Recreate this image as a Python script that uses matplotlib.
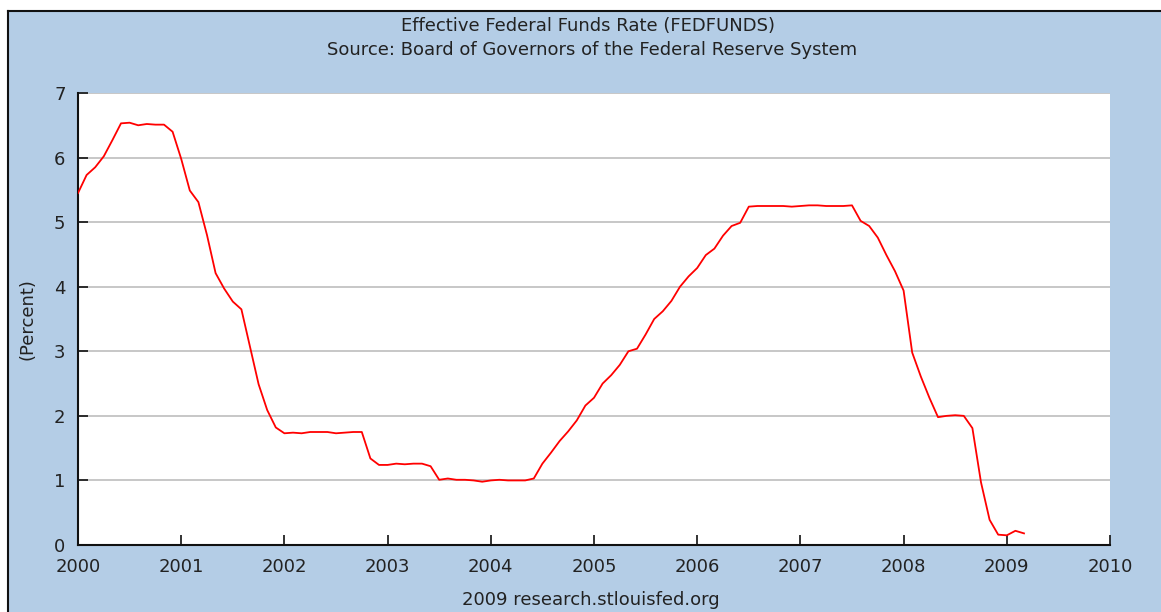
import matplotlib
matplotlib.use("Agg")
import matplotlib.pyplot as plt
from matplotlib.patches import Rectangle
from matplotlib.lines import Line2D

# Monthly effective federal funds rate, Jan 2000 - Mar 2009
years = [2000, 2001, 2002, 2003, 2004, 2005, 2006, 2007, 2008, 2009]
rates_2000 = [5.45, 5.73, 5.85, 6.02, 6.27, 6.53, 6.54, 6.50, 6.52, 6.51, 6.51, 6.40]
rates_2001 = [5.98, 5.49, 5.31, 4.80, 4.21, 3.97, 3.77, 3.65, 3.07, 2.49, 2.09, 1.82]
rates_2002 = [1.73, 1.74, 1.73, 1.75, 1.75, 1.75, 1.73, 1.74, 1.75, 1.75, 1.34, 1.24]
rates_2003 = [1.24, 1.26, 1.25, 1.26, 1.26, 1.22, 1.01, 1.03, 1.01, 1.01, 1.00, 0.98]
rates_2004 = [1.00, 1.01, 1.00, 1.00, 1.00, 1.03, 1.26, 1.43, 1.61, 1.76, 1.93, 2.16]
rates_2005 = [2.28, 2.50, 2.63, 2.79, 3.00, 3.04, 3.26, 3.50, 3.62, 3.78, 4.00, 4.16]
rates_2006 = [4.29, 4.49, 4.59, 4.79, 4.94, 4.99, 5.24, 5.25, 5.25, 5.25, 5.25, 5.24]
rates_2007 = [5.25, 5.26, 5.26, 5.25, 5.25, 5.25, 5.26, 5.02, 4.94, 4.76, 4.49, 4.24]
rates_2008 = [3.94, 2.98, 2.61, 2.28, 1.98, 2.00, 2.01, 2.00, 1.81, 0.97, 0.39, 0.16]
rates_2009 = [0.15, 0.22, 0.18]

yearly = [rates_2000, rates_2001, rates_2002, rates_2003, rates_2004,
          rates_2005, rates_2006, rates_2007, rates_2008, rates_2009]
dates = []
values = []
for y, vals in zip(years, yearly):
    for m, v in enumerate(vals):
        dates.append(y + m / 12.0)
        values.append(v)

x_ticks = list(range(2000, 2011))
y_ticks = list(range(0, 8))

title = "Effective Federal Funds Rate (FEDFUNDS)"
subtitle = "Source: Board of Governors of the Federal Reserve System"
ylabel = "(Percent)"
footer = "2009 research.stlouisfed.org"

bg = "#B4CDE6"
txt = "#222222"
fs = 13

fig = plt.figure(figsize=(11.61, 6.12), dpi=100)
fig.patch.set_facecolor("white")
W, H = 1161, 612
# blue panel with dark border on left/top
panel = Rectangle((7.5 / W, 0), 1 - 7.5 / W, 1 - 10.5 / H, transform=fig.transFigure,
                  facecolor=bg, edgecolor="none", zorder=-10)
fig.add_artist(panel)
fig.add_artist(Line2D([7.5 / W, 7.5 / W], [0, 1 - 10.5 / H], transform=fig.transFigure,
                      color="#111111", lw=1.5, zorder=-9))
fig.add_artist(Line2D([7.5 / W, 1], [1 - 10.5 / H, 1 - 10.5 / H], transform=fig.transFigure,
                      color="#111111", lw=1.5, zorder=-9))

ax = fig.add_axes([78 / W, 1 - 545 / H, (1110 - 78) / W, (545 - 93) / H])
ax.set_zorder(5)
ax.set_facecolor("white")
ax.plot(dates, values, color="#FF0000", lw=1.3, zorder=3)
ax.set_xlim(2000, 2010)
ax.set_ylim(0, 7)
ax.set_xticks(x_ticks)
ax.set_yticks(y_ticks)
ax.set_xticklabels([str(t) for t in x_ticks])
ax.set_yticklabels([str(t) for t in y_ticks])
ax.yaxis.grid(True, color="#BEBEBE", lw=1.2)
ax.set_axisbelow(True)
for s in ["top", "right"]:
    ax.spines[s].set_visible(False)
for s in ["left", "bottom"]:
    ax.spines[s].set_color("#111111")
    ax.spines[s].set_linewidth(1.5)
ax.tick_params(axis="both", direction="in", length=7, width=1.2, color="#111111",
               labelsize=fs, labelcolor=txt)
ax.tick_params(axis="x", pad=9)
ax.tick_params(axis="y", pad=9)
ax.set_ylabel(ylabel, fontsize=fs, color=txt)
ax.yaxis.set_label_coords(-(78 - 37) / (1110 - 78), 0.5)

fig.text(588 / W, 1 - 26 / H, title, ha="center", va="center", fontsize=fs, color=txt)
fig.text(592 / W, 1 - 50 / H, subtitle, ha="center", va="center", fontsize=fs, color=txt)
fig.text(591 / W, 1 - 600 / H, footer, ha="center", va="center", fontsize=fs, color=txt)

fig.savefig("out.png", dpi=100, facecolor=fig.get_facecolor())
